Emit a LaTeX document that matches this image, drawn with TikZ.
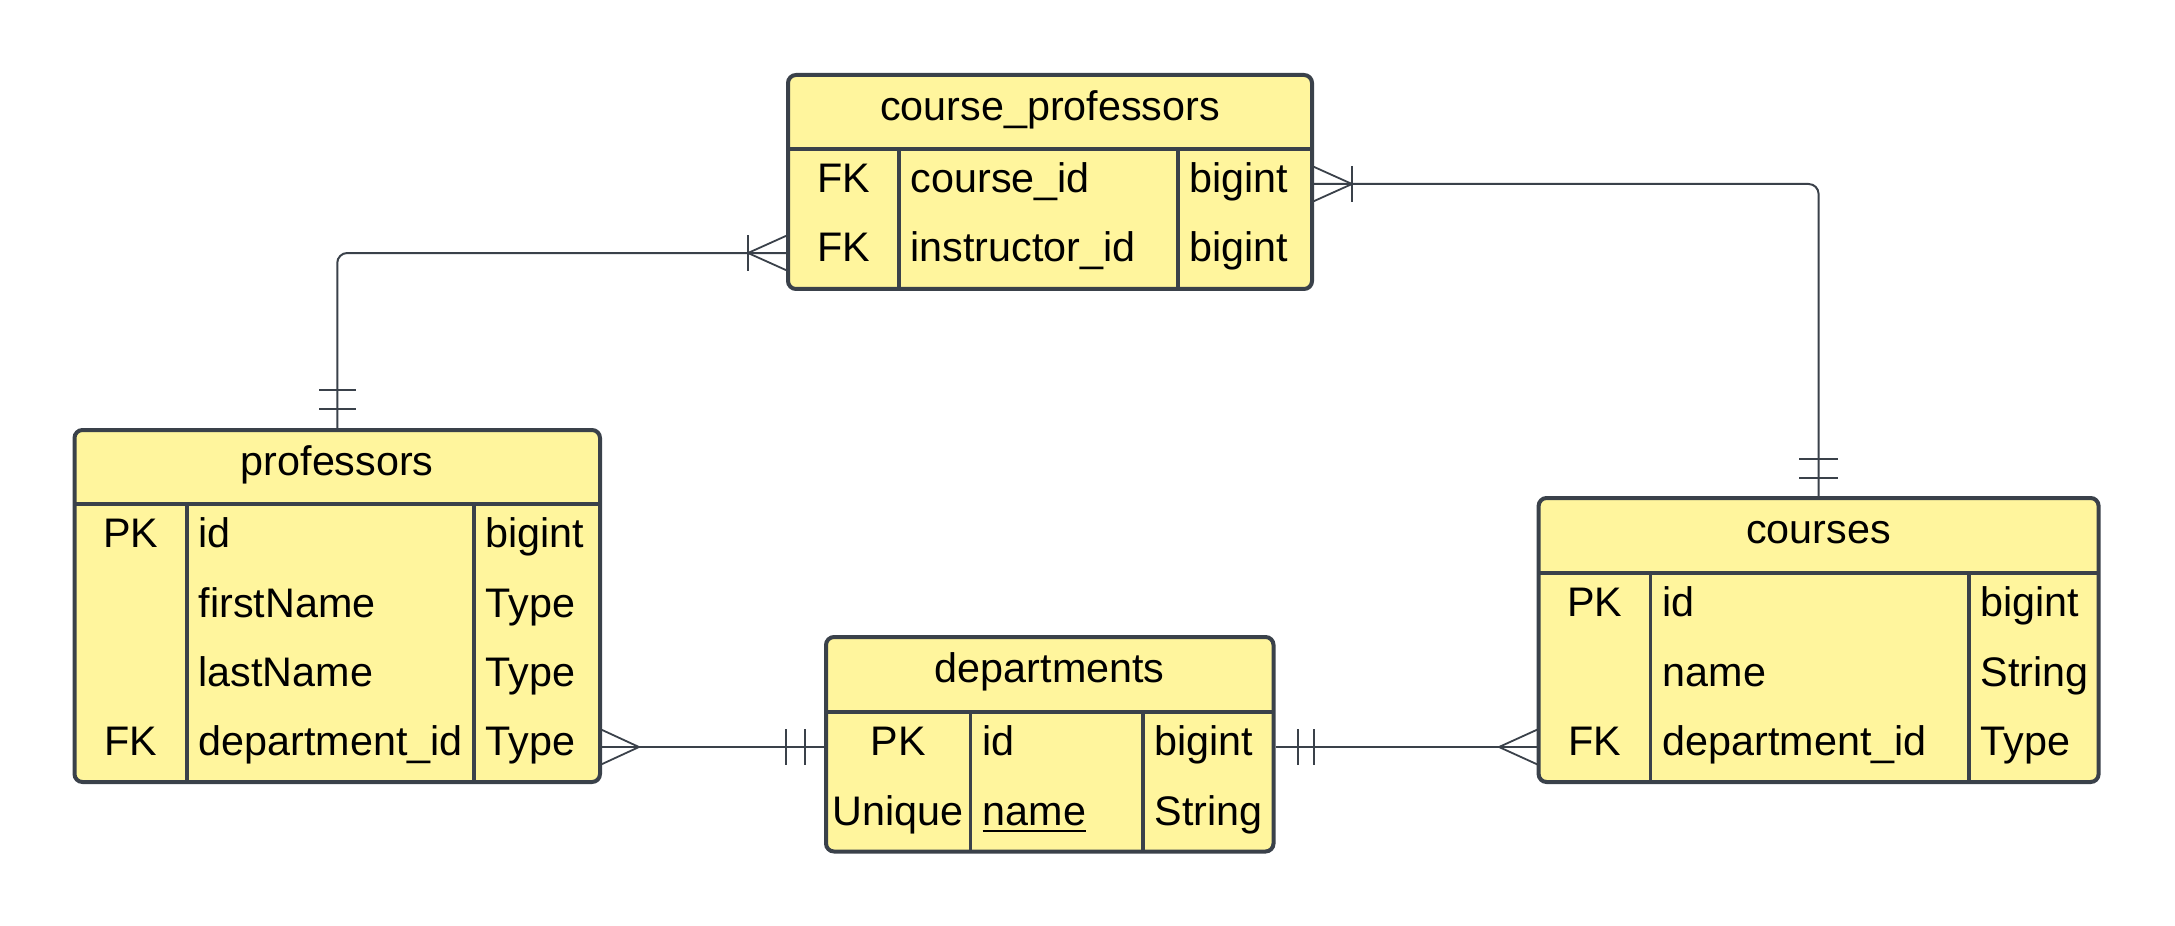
\documentclass[tikz,border=0pt]{standalone}
\usepackage{fontspec}
\setmainfont{Liberation Sans}
\usepackage{tikz}

\definecolor{erfill}{HTML}{FFF59D}
\definecolor{erline}{HTML}{3A414A}

\tikzset{
	tbl/.style={draw=erline, fill=erfill, line width=0.4mm, rounded corners=0.8mm, inner sep=0},
	rule/.style={draw=erline, line width=0.35mm},
	link/.style={draw=erline, line width=0.2mm, rounded corners=1mm},
	foot/.style={draw=erline, line width=0.18mm},
	hd/.style={inner sep=0, text height=2.95mm, text depth=0.8mm},
	key/.style={inner sep=0, text height=2.95mm, text depth=0.8mm},
	fld/.style={inner sep=0, text height=2.95mm, text depth=0.8mm, anchor=west}
}

\begin{document}
\begin{tikzpicture}[x=0.1mm, y=-0.1mm, font=\fontsize{11.75}{13}\selectfont]
	\useasboundingbox (0,0) rectangle (2175,926);

	% course_professors
	\node[tbl, minimum width=52.4mm, minimum height=21.4mm] (cp) at (1050,182) {};
	\draw[rule] (788,149) -- (1312,149);
	\draw[rule] (899,149) -- (899,289);
	\draw[rule] (1178,149) -- (1178,289);
	\node[hd] (cptitle) at (1050,110) {course\_professors};
	\node[key] (cpk1) at (843.5,182) {FK};
	\node[fld] (cpcourse) at (910,182) {course\_id};
	\node[fld] (cpt1) at (1189,182) {bigint};
	\node[key] (cpk2) at (843.5,251) {FK};
	\node[fld] (cpinstr) at (910,251) {instructor\_id};
	\node[fld] (cpt2) at (1189,251) {bigint};

	% professors
	\node[tbl, minimum width=52.55mm, minimum height=35.2mm] (prof) at (337.25,606) {};
	\draw[rule] (74.5,504) -- (600,504);
	\draw[rule] (187,504) -- (187,782);
	\draw[rule] (474,504) -- (474,782);
	\node[hd] (proftitle) at (337.25,465) {professors};
	\node[key] (profk1) at (130.75,537) {PK};
	\node[fld] (profid) at (198,537) {id};
	\node[fld] (proft1) at (485,537) {bigint};
	\node[fld] (proffirst) at (198,606.5) {firstName};
	\node[fld] (proft2) at (485,606.5) {Type};
	\node[fld] (proflast) at (198,676) {lastName};
	\node[fld] (proft3) at (485,676) {Type};
	\node[key] (profk4) at (130.75,745) {FK};
	\node[fld] (profdept) at (198,745) {department\_id};
	\node[fld] (proft4) at (485,745) {Type};

	% departments
	\node[tbl, minimum width=44.75mm, minimum height=21.45mm] (dept) at (1049.75,744.25) {};
	\draw[rule] (826,712) -- (1273.5,712);
	\draw[rule] (970.5,712) -- (970.5,851.5);
	\draw[rule] (1143,712) -- (1143,851.5);
	\node[hd] (depttitle) at (1049.75,672) {departments};
	\node[key] (deptk1) at (898.25,745) {PK};
	\node[fld] (deptid) at (982,745) {id};
	\node[fld] (deptt1) at (1154,745) {bigint};
	\node[key] (deptk2) at (898.25,815) {Unique};
	\node[fld] (deptname) at (982,815) {\underline{name}};
	\node[fld] (deptt2) at (1154,815) {String};

	% courses
	\node[tbl, minimum width=56mm, minimum height=28.4mm] (course) at (1818.6,640) {};
	\draw[rule] (1538.6,573) -- (2098.6,573);
	\draw[rule] (1650.6,573) -- (1650.6,782);
	\draw[rule] (1969,573) -- (1969,782);
	\node[hd] (coursetitle) at (1818.6,533) {courses};
	\node[key] (coursek1) at (1594.6,606) {PK};
	\node[fld] (courseid) at (1662,606) {id};
	\node[fld] (courset1) at (1980,606) {bigint};
	\node[fld] (coursename) at (1662,675.5) {name};
	\node[fld] (courset2) at (1980,675.5) {String};
	\node[key] (coursek3) at (1594.6,745) {FK};
	\node[fld] (coursedept) at (1662,745) {department\_id};
	\node[fld] (courset3) at (1980,745) {Type};

	% relations
	\coordinate (cpin) at (788,253);
	\coordinate (cpout) at (1312,184);
	\coordinate (deptin) at (826,747);
	\coordinate (courseout) at (1538.6,747);
	\draw[link] (prof.north) |- (cpin);
	\draw[link] (cpout) -| (course.north);
	\draw[link] (prof.east |- deptin) -- (deptin);
	\draw[link] (dept.east |- courseout) -- (courseout);

	% ends
	\draw[foot] (788,235) -- (748,253) -- (788,271);
	\draw[foot] (748,235) -- (748,271);
	\draw[foot] (319,390) -- (356,390);
	\draw[foot] (319,409) -- (356,409);

	\draw[foot] (1312,166) -- (1352,184) -- (1312,202);
	\draw[foot] (1352,166) -- (1352,202);
	\draw[foot] (1799,459) -- (1838,459);
	\draw[foot] (1799,478) -- (1838,478);

	\draw[foot] (600,729) -- (639,747) -- (600,765);
	\draw[foot] (786,729) -- (786,765);
	\draw[foot] (805,729) -- (805,765);

	\draw[foot] (1298,729) -- (1298,765);
	\draw[foot] (1314,729) -- (1314,765);
	\draw[foot] (1538.6,729) -- (1499,747) -- (1538.6,765);
\end{tikzpicture}
\end{document}
